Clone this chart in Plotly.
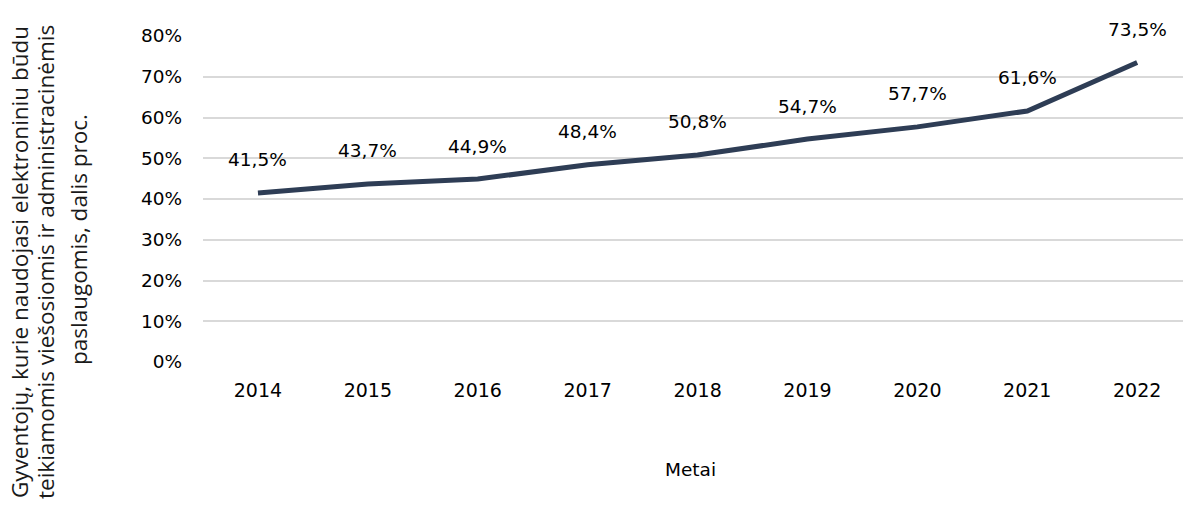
import plotly.graph_objects as go

years = ["2014", "2015", "2016", "2017", "2018", "2019", "2020", "2021", "2022"]
values = [41.5, 43.7, 44.9, 48.4, 50.8, 54.7, 57.7, 61.6, 73.5]
value_labels = ["41,5%", "43,7%", "44,9%", "48,4%", "50,8%", "54,7%", "57,7%", "61,6%", "73,5%"]
y_ticks = [0, 10, 20, 30, 40, 50, 60, 70, 80]
y_tick_labels = ["0%", "10%", "20%", "30%", "40%", "50%", "60%", "70%", "80%"]
y_title_lines = [
    "Gyventojų, kurie naudojasi elektroniniu būdu",
    "teikiamomis viešosiomis ir administracinėmis",
    "paslaugomis, dalis proc.",
]
x_title = "Metai"

W, H = 1183, 513
L, R, T, B = 203, 0, 36, 151
plot_w = W - L - R
plot_h = H - T - B

fig = go.Figure()
fig.add_trace(go.Scatter(
    x=years, y=values, mode="lines",
    line=dict(color="#2E3D55", width=5),
    hoverinfo="skip", showlegend=False,
))

for i, (v, lab) in enumerate(zip(values, value_labels)):
    fig.add_annotation(x=i, y=v, text=lab, showarrow=False, yshift=33,
                       font=dict(family="DejaVu Sans", size=18.5, color="#000000"))

# y-axis title as three rotated lines
title_x_px = [19, 45, 79]
title_y_px = [262, 262, 240]
for px, py, line in zip(title_x_px, title_y_px, y_title_lines):
    fig.add_annotation(xref="paper", yref="paper", x=(px - L) / plot_w,
                       y=((H - B) - py) / plot_h,
                       text=line, textangle=-90, showarrow=False,
                       xanchor="center", yanchor="middle",
                       font=dict(family="Open Sans", size=22.5, color="#1a1a1a"))

fig.add_annotation(xref="paper", yref="paper", x=(690 - L) / plot_w, y=-(470 - (H - B)) / plot_h,
                   text=x_title, showarrow=False, xanchor="center", yanchor="middle",
                   font=dict(family="DejaVu Sans", size=18.5, color="#000000"))

fig.update_layout(
    width=W, height=H,
    margin=dict(l=L, r=R, t=T, b=B, pad=0),
    paper_bgcolor="white", plot_bgcolor="white",
    xaxis=dict(type="category", range=[-0.5, 8.417], showgrid=False, showline=False,
               zeroline=False, ticks="", tickfont=dict(family="DejaVu Sans", size=19, color="#000000"),
               ticklabelstandoff=15),
    yaxis=dict(range=[0, 80], tickvals=y_ticks, ticktext=y_tick_labels,
               showgrid=True, gridcolor="#D9D9D9", gridwidth=1.5, zeroline=False,
               showline=False, ticks="",
               tickfont=dict(family="DejaVu Sans", size=18.5, color="#000000"),
               ticklabelstandoff=20),
)

fig.write_html("out.html", config={"displayModeBar": False},
               post_script="document.body.style.margin='0';document.body.style.overflow='hidden';")
